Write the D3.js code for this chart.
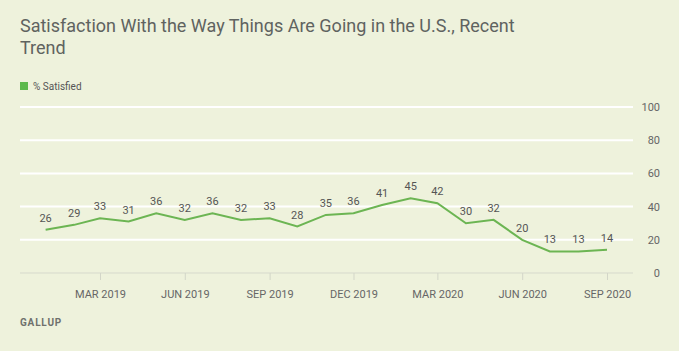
<!DOCTYPE html>
<html>
<head>
<meta charset="utf-8">
<script src="https://cdn.jsdelivr.net/npm/d3@7"></script>
<style>
  body { margin: 0; background: #eef2dc; }
  svg { display: block; font-family: Roboto, "Open Sans", sans-serif; }
</style>
</head>
<body>
<div id="chart"></div>
<script>
// DATA
const months = ["2019-01","2019-02","2019-03","2019-04","2019-05","2019-06","2019-07","2019-08","2019-09","2019-10","2019-11","2019-12",
  "2020-01","2020-02","2020-03","2020-04","2020-05","2020-06","2020-07","2020-08","2020-09"]
const satisfied = [26,29,33,31,36,32,36,32,33,28,35,36,41,45,42,30,32,20,13,13,14]
const xTicks = ["2019-03","2019-06","2019-09","2019-12","2020-03","2020-06","2020-09"]
const yTicks = [0,20,40,60,80,100]

const width = 679, height = 351
const parse = d3.timeParse("%Y-%m")
const data = months.map((m, i) => ({date: parse(m), value: satisfied[i]}))

const svg = d3.select("#chart").append("svg")
    .attr("width", width)
    .attr("height", height)

svg.append("rect").attr("width", width).attr("height", height).attr("fill", "#eef2dc")

// SCALES
const x = d3.scaleTime()
    .domain([parse("2019-03"), parse("2020-09")])
    .range([100, 607])
const y = d3.scaleLinear()
    .domain([0, 100])
    .range([273, 107])

const left = 20, right = 633

// TITLE
const title = svg.append("text")
    .attr("x", 20).attr("y", 32)
    .attr("fill", "#5f6360")
    .attr("font-size", 18)
title.append("tspan").attr("x", 20).text("Satisfaction With the Way Things Are Going in the U.S., Recent")
title.append("tspan").attr("x", 20).attr("dy", 22).text("Trend")

// LEGEND
svg.append("rect").attr("x", 20).attr("y", 82).attr("width", 8).attr("height", 8).attr("fill", "#5db94c")
svg.append("text").attr("x", 33).attr("y", 90)
    .attr("font-size", 10).attr("fill", "#555")
    .text("% Satisfied")

// GRIDLINES + Y AXIS
svg.append("g")
    .selectAll("line")
    .data(yTicks.filter(d => d > 0))
    .join("line")
    .attr("x1", left).attr("x2", right)
    .attr("y1", d => y(d)).attr("y2", d => y(d))
    .attr("stroke", "#ffffff")
    .attr("stroke-width", 2)

const yAxis = svg.append("g")
    .attr("transform", `translate(660,0)`)
    .call(d3.axisLeft(y).tickValues(yTicks).tickSize(0).tickPadding(0))
yAxis.select(".domain").remove()
yAxis.selectAll("text").attr("font-size", 11).attr("fill", "#666").attr("font-family", "Roboto, sans-serif")

// X AXIS
svg.append("line")
    .attr("x1", left).attr("x2", right)
    .attr("y1", y(0)).attr("y2", y(0))
    .attr("stroke", "#d6d9cc").attr("stroke-width", 1)

const xAxis = svg.append("g")
    .attr("transform", `translate(0, ${y(0)})`)
    .call(d3.axisBottom(x)
        .tickValues(xTicks.map(parse))
        .tickSize(7)
        .tickPadding(10)
        .tickFormat(d => d3.timeFormat("%b %Y")(d).toUpperCase()))
xAxis.select(".domain").remove()
xAxis.selectAll("line").attr("stroke", "#d3d6c8")
xAxis.selectAll("text").attr("font-size", 11).attr("fill", "#666").attr("font-family", "Roboto, sans-serif")

// LINE
const line = d3.line()
    .x(d => x(d.date))
    .y(d => y(d.value))

svg.append("path")
    .datum(data)
    .attr("d", line)
    .attr("fill", "none")
    .attr("stroke", "#6cb553")
    .attr("stroke-width", 2)

// LABELS
svg.append("g")
    .selectAll("text")
    .data(data)
    .join("text")
    .attr("x", d => x(d.date))
    .attr("y", d => y(d.value) - 8)
    .attr("text-anchor", "middle")
    .attr("font-size", 11)
    .attr("fill", "#555")
    .text(d => d.value)

// SOURCE
svg.append("text")
    .attr("x", 20).attr("y", 326)
    .attr("font-size", 10)
    .attr("font-weight", "bold")
    .attr("letter-spacing", 0.8)
    .attr("fill", "#6e716c")
    .text("GALLUP")
</script>
</body>
</html>
